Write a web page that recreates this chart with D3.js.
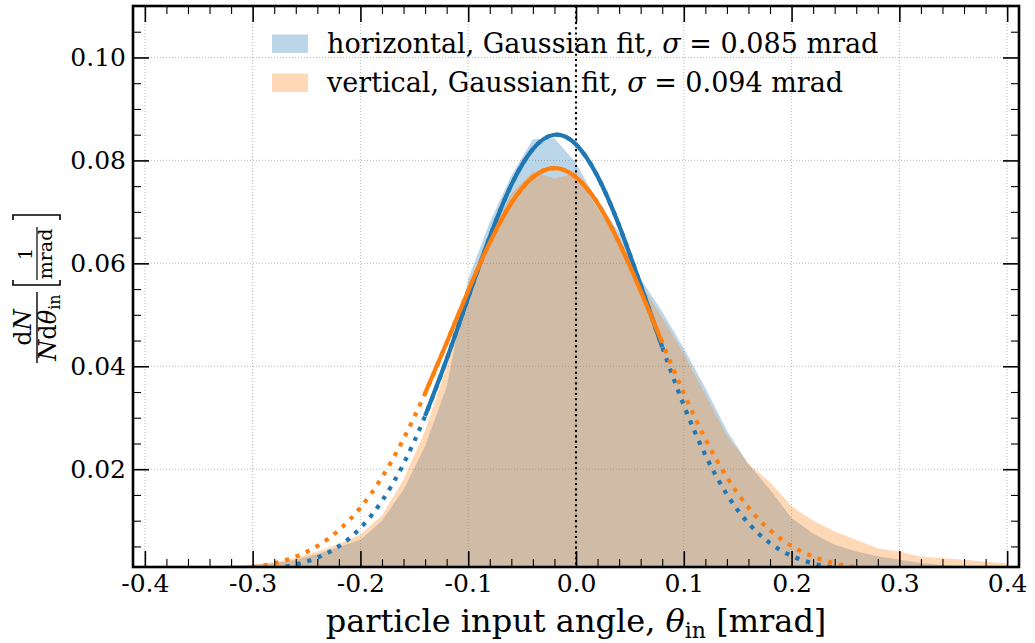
<!DOCTYPE html>
<html><head><meta charset="utf-8">
<script src="https://cdn.jsdelivr.net/npm/d3@7/dist/d3.min.js"></script>
<style>
body{margin:0;background:#fff}
svg{display:block}
text{font-family:"DejaVu Serif",serif;fill:#000}
</style>
</head><body>
<svg id="chart" width="1035" height="643"></svg>
<script>
// ---------- data ----------
const binCenters = [-0.40,-0.38,-0.36,-0.34,-0.32,-0.30,-0.28,-0.26,-0.24,-0.22,-0.20,-0.18,-0.16,-0.14,-0.12,-0.10,-0.08,-0.06,-0.04,-0.02,
  0.00,0.02,0.04,0.06,0.08,0.10,0.12,0.14,0.16,0.18,0.20,0.22,0.24,0.26,0.28,0.30,0.32,0.34,0.36,0.38,0.40];
const horizontalHist = [0.0008,0.0008,0.0009,0.0010,0.0012,0.0014,0.0017,0.0024,0.0035,0.0049,0.0063,0.0100,0.0160,0.0245,0.0360,0.0570,0.0680,0.0770,0.0841,0.0843,
  0.0795,0.0720,0.0660,0.0570,0.0506,0.0435,0.0358,0.0275,0.0210,0.0160,0.0105,0.0075,0.0053,0.0040,0.0031,0.0024,0.0018,0.0014,0.0012,0.0010,0.0009];
const verticalHist = [0.0008,0.0009,0.0010,0.0011,0.0013,0.0015,0.0019,0.0028,0.0040,0.0055,0.0073,0.0110,0.0180,0.0275,0.0400,0.0540,0.0655,0.0735,0.0778,0.0765,
  0.0775,0.0705,0.0645,0.0560,0.0495,0.0425,0.0345,0.0265,0.0210,0.0175,0.0128,0.0100,0.0079,0.0063,0.0046,0.0040,0.0030,0.0027,0.0024,0.0020,0.0017];

const fitX = [-0.30,-0.28,-0.26,-0.24,-0.22,-0.20,-0.18,-0.16,-0.14,-0.12,-0.10,-0.08,-0.06,-0.04,-0.02,
  0.00,0.02,0.04,0.06,0.08,0.10,0.12,0.14,0.16,0.18,0.20,0.22,0.24,0.26,0.28];
const horizontalFit = [0.00035,0.00074,0.00148,0.00281,0.00505,0.00859,0.01383,0.02106,0.03035,0.04138,0.05338,0.06514,0.07523,0.08220,0.08498,
  0.08311,0.07692,0.06735,0.05579,0.04373,0.03243,0.02275,0.01511,0.00949,0.00564,0.00317,0.00169,0.00085,0.00040,0.00019];
const verticalFit = [0.00093,0.00171,0.00302,0.00507,0.00816,0.01255,0.01844,0.02590,0.03475,0.04458,0.05465,0.06403,0.07170,0.07674,0.07850,
  0.07674,0.07170,0.06403,0.05465,0.04458,0.03475,0.02590,0.01844,0.01255,0.00816,0.00507,0.00302,0.00171,0.00093,0.00048];
const fitRange = [-0.14, 0.08];

const xTicks = [-0.4,-0.3,-0.2,-0.1,0.0,0.1,0.2,0.3,0.4];
const xTickLabels = ["-0.4","-0.3","-0.2","-0.1","0.0","0.1","0.2","0.3","0.4"];
const yTicks = [0.02,0.04,0.06,0.08,0.10];
const yTickLabels = ["0.02","0.04","0.06","0.08","0.10"];
const legendNames = ["horizontal, Gaussian fit, ", "vertical, Gaussian fit, "];
const legendSigmas = ["0.085", "0.094"];
const seriesColors = ["#1f77b4", "#ff7f0e"];

// ---------- layout ----------
const L = 133, R = 1019, T = 6, B = 567;
const svg = d3.select("#chart");
const x = d3.scaleLinear().domain([-0.411, 0.411]).range([L, R]);
const y = d3.scaleLinear().domain([0.001, 0.110]).range([B, T]);

svg.append("defs").append("clipPath").attr("id","plotclip")
  .append("rect").attr("x",L).attr("y",T).attr("width",R-L).attr("height",B-T);

// grid
const grid = svg.append("g").attr("stroke","#b8b8b8").attr("stroke-width",1).attr("stroke-dasharray","1,2");
xTicks.forEach(t => grid.append("line").attr("x1",x(t)).attr("x2",x(t)).attr("y1",T).attr("y2",B));
yTicks.forEach(t => grid.append("line").attr("x1",L).attr("x2",R).attr("y1",y(t)).attr("y2",y(t)));

const plot = svg.append("g").attr("clip-path","url(#plotclip)");

// filled histograms
const area = d3.area().x(d => x(d[0])).y0(B + 5).y1(d => y(d[1]));
[horizontalHist, verticalHist].forEach((vals, i) => {
  plot.append("path").datum(binCenters.map((c, j) => [c, vals[j]]))
    .attr("d", area).attr("fill", seriesColors[i]).attr("fill-opacity", 0.3);
});

// vertical dotted line at 0
plot.append("line").attr("x1",x(0)).attr("x2",x(0)).attr("y1",T).attr("y2",B)
  .attr("stroke","#000").attr("stroke-width",2.1).attr("stroke-dasharray","2.1,3.2");

// fit curves
const line = d3.line().x(d => x(d[0])).y(d => y(d[1])).curve(d3.curveNatural);
const fits = [horizontalFit, verticalFit];
fits.forEach((vals, i) => {
  const pts = fitX.map((c, j) => [c, vals[j]]);
  plot.append("path").datum(pts).attr("d", line).attr("fill","none")
    .attr("stroke", seriesColors[i]).attr("stroke-width",4.2).attr("stroke-dasharray","4.2,6.9");
});
fits.forEach((vals, i) => {
  const pts = fitX.map((c, j) => [c, vals[j]]).filter(d => d[0] >= fitRange[0] - 1e-9 && d[0] <= fitRange[1] + 1e-9);
  plot.append("path").datum(pts).attr("d", line).attr("fill","none")
    .attr("stroke", seriesColors[i]).attr("stroke-width",4.2);
});

// ---------- axes (inward ticks on all sides) ----------
const xMinor = d3.range(-20, 21).map(k => k * 0.02).filter(v => Math.abs(Math.round(v*10) - v*10) > 1e-6);
const yMinor = d3.range(1, 22).map(k => k * 0.005).filter(v => Math.abs(Math.round(v*50) - v*50) > 1e-6);

function styleAxis(g, w) {
  g.select(".domain").remove();
  g.selectAll(".tick line").attr("stroke","#000").attr("stroke-width", w);
  g.selectAll("text").attr("font-family","DejaVu Serif").attr("font-size",25).attr("fill","#000");
}
// bottom
svg.append("g").attr("transform",`translate(0,${B})`)
  .call(d3.axisBottom(x).tickValues(xTicks).tickFormat((d,i) => xTickLabels[i]).tickSize(-16).tickPadding(7))
  .call(g => styleAxis(g, 1.6));
svg.append("g").attr("transform",`translate(0,${B})`)
  .call(d3.axisBottom(x).tickValues(xMinor).tickFormat("").tickSize(-8))
  .call(g => styleAxis(g, 1.1));
// top
svg.append("g").attr("transform",`translate(0,${T})`)
  .call(d3.axisTop(x).tickValues(xTicks).tickFormat("").tickSize(-16))
  .call(g => styleAxis(g, 1.6));
svg.append("g").attr("transform",`translate(0,${T})`)
  .call(d3.axisTop(x).tickValues(xMinor).tickFormat("").tickSize(-8))
  .call(g => styleAxis(g, 1.1));
// left
svg.append("g").attr("transform",`translate(${L},0)`)
  .call(d3.axisLeft(y).tickValues(yTicks).tickFormat((d,i) => yTickLabels[i]).tickSize(-16).tickPadding(7))
  .call(g => styleAxis(g, 1.6));
svg.append("g").attr("transform",`translate(${L},0)`)
  .call(d3.axisLeft(y).tickValues(yMinor).tickFormat("").tickSize(-8))
  .call(g => styleAxis(g, 1.1));
// right
svg.append("g").attr("transform",`translate(${R},0)`)
  .call(d3.axisRight(y).tickValues(yTicks).tickFormat("").tickSize(-16))
  .call(g => styleAxis(g, 1.6));
svg.append("g").attr("transform",`translate(${R},0)`)
  .call(d3.axisRight(y).tickValues(yMinor).tickFormat("").tickSize(-8))
  .call(g => styleAxis(g, 1.1));

// frame
svg.append("rect").attr("x",L).attr("y",T).attr("width",R-L).attr("height",B-T)
  .attr("fill","none").attr("stroke","#000").attr("stroke-width",2.6);

// ---------- legend ----------
const leg = svg.append("g");
legendNames.forEach((name, i) => {
  const yb = 53 + i * 39;
  leg.append("rect").attr("x",272).attr("y",yb - 18.5).attr("width",36).attr("height",18.5)
    .attr("fill", seriesColors[i]).attr("fill-opacity",0.3);
  const t = leg.append("text").attr("x",327).attr("y",yb).attr("font-size",27);
  t.append("tspan").text(name);
  t.append("tspan").attr("font-style","italic").text("σ");
  t.append("tspan").text(" = " + legendSigmas[i] + " mrad");
});

// ---------- x label ----------
const xl = svg.append("text").attr("x", x(0)).attr("y", 632).attr("text-anchor","middle").attr("font-size",32);
xl.append("tspan").text("particle input angle, ");
xl.append("tspan").attr("font-style","italic").text("θ");
xl.append("tspan").attr("font-size",22).attr("dy",6).text("in");
xl.append("tspan").attr("dy",-6).text(" [mrad]");

// ---------- y label (rotated fraction) ----------
const yl = svg.append("g").attr("transform","translate(37,290) rotate(-90)");
yl.append("line").attr("x1",-73).attr("x2",-2).attr("y1",0).attr("y2",0).attr("stroke","#000").attr("stroke-width",1.4);
const num = yl.append("text").attr("x",-37.5).attr("y",-6).attr("text-anchor","middle").attr("font-size",24);
num.append("tspan").text("d");
num.append("tspan").attr("font-style","italic").text("N");
const den = yl.append("text").attr("x",-37.5).attr("y",19).attr("text-anchor","middle").attr("font-size",24);
den.append("tspan").attr("font-style","italic").text("N");
den.append("tspan").text("d");
den.append("tspan").attr("font-style","italic").text("θ");
den.append("tspan").attr("font-size",16).attr("dy",4).text("in");
yl.append("path").attr("d","M10,-24H5V23H10").attr("fill","none").attr("stroke","#000").attr("stroke-width",1.6);
yl.append("path").attr("d","M70,-24H75V23H70").attr("fill","none").attr("stroke","#000").attr("stroke-width",1.6);
yl.append("line").attr("x1",10).attr("x2",63).attr("y1",0).attr("y2",0).attr("stroke","#000").attr("stroke-width",1.2);
yl.append("text").attr("x",36).attr("y",-5).attr("text-anchor","middle").attr("font-size",19).text("1");
yl.append("text").attr("x",36).attr("y",15).attr("text-anchor","middle").attr("font-size",19).text("mrad");
</script>
</body></html>
